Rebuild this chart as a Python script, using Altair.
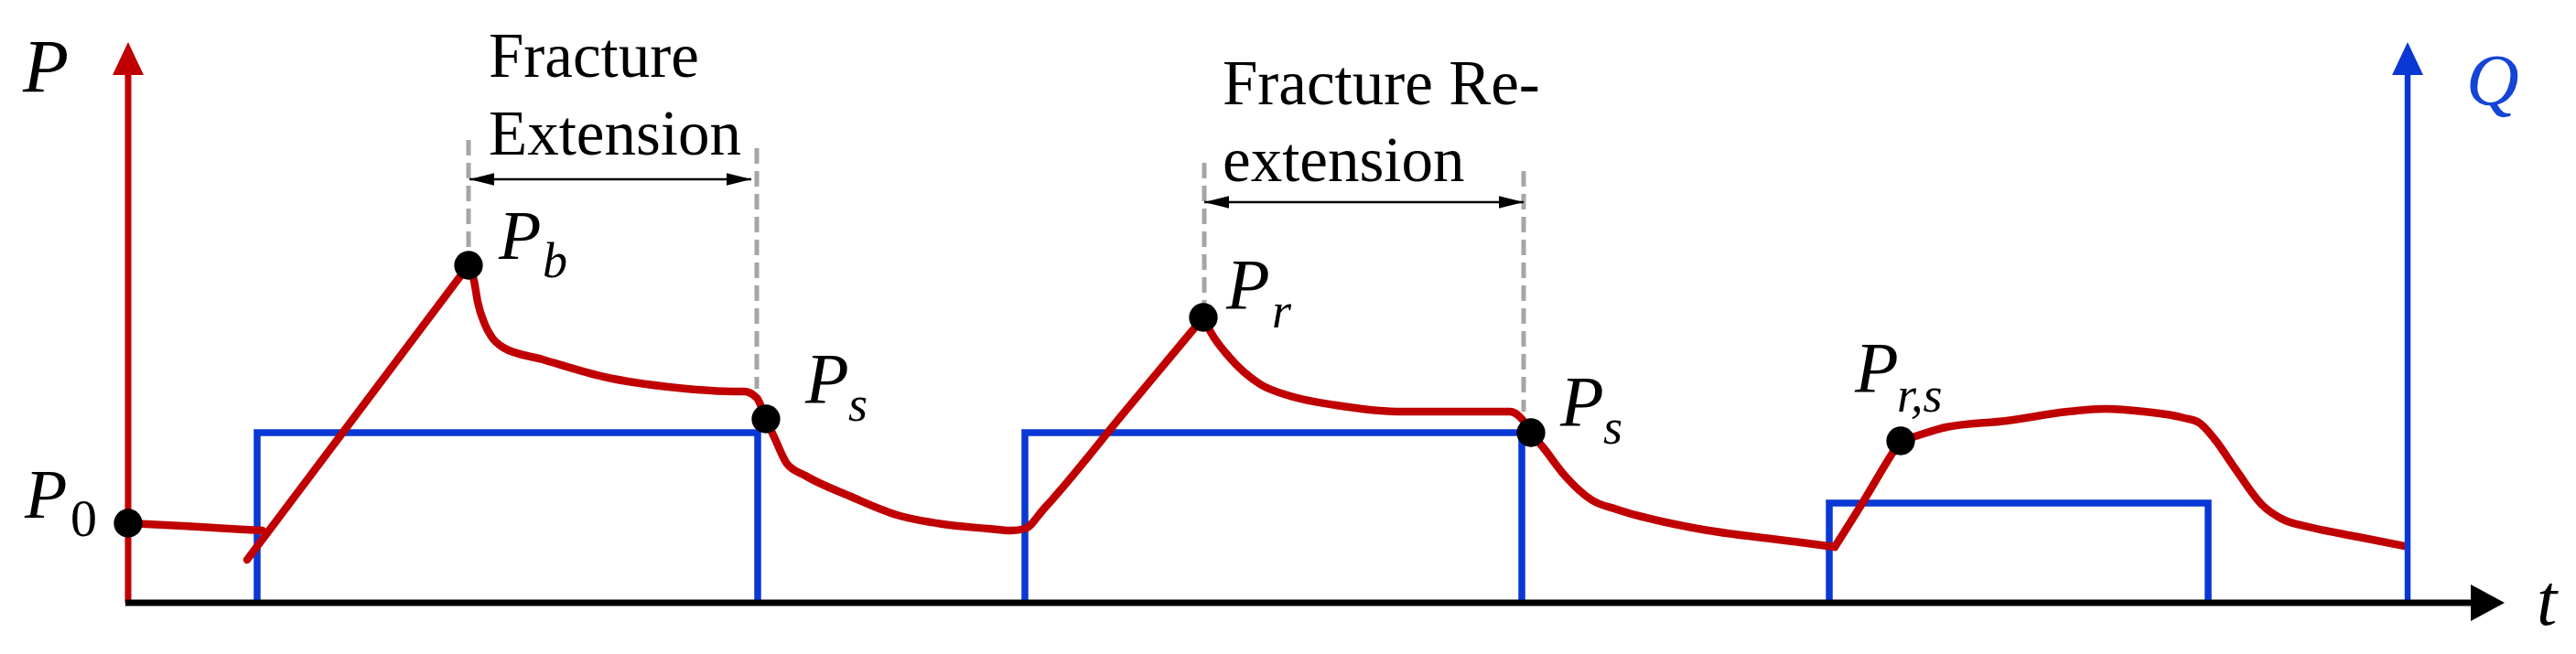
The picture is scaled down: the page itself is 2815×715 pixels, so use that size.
import altair as alt
import pandas as pd

# ---------------- data (t in schematic time units, P in schematic pressure units) ----------------
# red pressure curve, split into segments at the sharp corners
seg0_t = [0, 6, 11, 14.7]
seg0_p = [8.7, 8.4, 8.1, 7.9]
seg1_t = [13.0, 37.2]
seg1_p = [4.7, 36.9]
seg2_t = [37.2, 37.8, 38.2, 39.0, 39.7, 41.0, 45.3, 52.0, 60.0, 66.0, 67.3, 68.7, 69.7, 70.7,
          72.0, 74.0, 79.0, 84.0, 89.0, 94.0, 96.5, 98.0, 100.1, 109.0, 117.5]
seg2_p = [36.9, 35.2, 32.9, 30.4, 29.1, 27.9, 26.6, 24.7, 23.5, 23.1, 23.1, 22.4, 20.1, 17.9,
          15.2, 13.9, 11.6, 9.6, 8.6, 8.1, 7.9, 8.1, 10.3, 21.0, 31.2]
seg3_t = [117.5, 118.3, 120.3, 123.7, 127.0, 132.0, 139.1, 146.0, 151.0, 152.3, 153.3, 154.7,
          157.0, 160.0, 162.7, 171.0, 182.0, 186.5]
seg3_p = [31.2, 29.6, 26.9, 23.9, 22.6, 21.6, 20.9, 20.9, 20.9, 20.1, 18.6, 16.9,
          13.9, 11.2, 10.2, 8.2, 6.7, 6.1]
seg4_t = [186.5, 189.7, 192.7, 193.7, 195.3, 198.7, 205.3, 212.0, 216.0, 220.3, 224.7, 226.3,
          228.0, 230.3, 233.3, 235.3, 238.7, 243.7, 248.8]
seg4_p = [6.1, 11.2, 16.2, 17.7, 18.2, 19.2, 19.9, 20.9, 21.2, 20.9, 20.2, 19.7,
          17.9, 14.6, 10.6, 9.2, 8.2, 7.2, 6.2]

# blue injection-rate steps Q(t): start, end, level
q_start = [14.1, 98.0, 185.9]
q_end = [68.8, 152.3, 227.3]
q_level = [18.6, 18.6, 10.9]

# marked points
pt_name = ["P0", "Pb", "Ps", "Pr", "Ps2", "Prs"]
pt_t = [0.0, 37.2, 69.7, 117.5, 153.3, 193.7]
pt_p = [8.7, 36.9, 20.1, 31.2, 18.6, 17.7]

# dashed guide lines (t, top, bottom)
dash_t = [37.2, 68.7, 117.6, 152.5]
dash_top = [50.6, 49.7, 48.1, 47.2]
dash_bot = [36.9, 23.4, 31.2, 20.9]

# double arrows (from, to, level)
arr_from = [37.3, 117.6]
arr_to = [68.1, 152.5]
arr_lvl = [46.3, 43.8]

# axes extents
p_axis_top = 57.9
p_axis_tip = 61.3
q_axis_t = 249.1
t_axis_end = 256.5
t_axis_tip = 259.7

# labels
it_text = ["P", "Q", "t", "P", "P", "b", "P", "s", "P", "r", "P", "s", "P", "r,s"]
it_t = [-11.5, 255.5, 263.2, -11.3, 40.5, 45.3, 74.0, 78.7, 120.0, 125.0, 156.5, 161.2, 188.7, 193.3]
it_p = [55.9, 54.4, -2.4, 9.3, 37.6, 35.6, 21.9, 19.9, 32.2, 30.1, 19.4, 17.4, 23.1, 20.9]
it_size = [82, 80, 80, 76, 76, 54, 78, 54, 78, 54, 78, 54, 78, 54]
it_col = ["black", "#1444D8"] + ["black"] * 12

up_text = ["0", "Fracture", "Extension", "Fracture Re-", "extension"]
up_t = [-6.3, 39.4, 39.4, 119.6, 119.6]
up_p = [7.3, 57.5, 49.0, 54.5, 46.1]
up_size = [58, 69, 69, 69, 69]

RED = "#C00000"
BLUE = "#0A38D4"
FONT = "Liberation Serif"

# ---------------- build tables ----------------
rows = []
for k, (ts, ps) in enumerate([(seg0_t, seg0_p), (seg1_t, seg1_p), (seg2_t, seg2_p),
                               (seg3_t, seg3_p), (seg4_t, seg4_p)]):
    for i, (a, b) in enumerate(zip(ts, ps)):
        rows.append({"seg": k, "i": i, "t": a, "P": b})
red_df = pd.DataFrame(rows)

qrows = []
for k, (a, b, lv) in enumerate(zip(q_start, q_end, q_level)):
    for i, (tt, pp) in enumerate([(a, 0), (a, lv), (b, lv), (b, 0)]):
        qrows.append({"seg": k, "i": i, "t": tt, "P": pp})
blue_df = pd.DataFrame(qrows)

xs = alt.Scale(domain=[-13.2, 266.7], nice=False, zero=False)
ys = alt.Scale(domain=[-4.8, 65.1], nice=False, zero=False)
X = lambda f="t": alt.X(f"{f}:Q", scale=xs, axis=None)
Y = lambda f="P": alt.Y(f"{f}:Q", scale=ys, axis=None)

blue = alt.Chart(blue_df).mark_line(color=BLUE, strokeWidth=7.5, strokeJoin="miter",
                                    interpolate="linear").encode(
    x=X(), y=Y(), detail="seg:N", order="i:Q")

red = alt.Chart(red_df).mark_line(color=RED, strokeWidth=8.5, strokeCap="round",
                                  strokeJoin="round", interpolate="monotone").encode(
    x=X(), y=Y(), detail="seg:N", order="i:Q")

dash_df = pd.DataFrame({"t": dash_t, "P": dash_top, "P2": dash_bot})
dashes = alt.Chart(dash_df).mark_rule(color="#A6A6A6", strokeWidth=5,
                                      strokeDash=[17, 8]).encode(
    x=X(), y=Y(), y2="P2:Q")

dots_df = pd.DataFrame({"name": pt_name, "t": pt_t, "P": pt_p})
dots = alt.Chart(dots_df).mark_point(shape="circle", filled=True, color="black",
                                     opacity=1, size=980).encode(x=X(), y=Y())

# axes
paxis = alt.Chart(pd.DataFrame({"t": [0.0], "P": [0.0], "P2": [p_axis_top]})).mark_rule(
    color=RED, strokeWidth=7).encode(x=X(), y=Y(), y2="P2:Q")
qaxis = alt.Chart(pd.DataFrame({"t": [q_axis_t], "P": [0.0], "P2": [p_axis_top]})).mark_rule(
    color=BLUE, strokeWidth=6.5).encode(x=X(), y=Y(), y2="P2:Q")
taxis = alt.Chart(pd.DataFrame({"t": [-0.3], "t2": [t_axis_end], "P": [0.0]})).mark_rule(
    color="black", strokeWidth=7).encode(x=X(), x2="t2:Q", y=Y())

up_head = "M0,0L-0.944,2L0.944,2Z"
right_head_big = "M0,0L-2,-1.08L-2,1.08Z"
ptip = alt.Chart(pd.DataFrame({"t": [0.0], "P": [p_axis_tip]})).mark_point(
    shape=up_head, filled=True, color=RED, opacity=1, size=1296).encode(x=X(), y=Y())
qtip = alt.Chart(pd.DataFrame({"t": [q_axis_t], "P": [p_axis_tip]})).mark_point(
    shape=up_head, filled=True, color=BLUE, opacity=1, size=1296).encode(x=X(), y=Y())
ttip = alt.Chart(pd.DataFrame({"t": [t_axis_tip], "P": [0.0]})).mark_point(
    shape=right_head_big, filled=True, color="black", opacity=1, size=1369).encode(x=X(), y=Y())

# double arrows
arr_df = pd.DataFrame({"t": arr_from, "t2": arr_to, "P": arr_lvl})
arr_line = alt.Chart(arr_df).mark_rule(color="black", strokeWidth=2.5).encode(
    x=X(), x2="t2:Q", y=Y())
lh = alt.Chart(pd.DataFrame({"t": arr_from, "P": arr_lvl})).mark_point(
    shape="M0,0L2,-0.5L2,0.5Z", filled=True, color="black", opacity=1, size=729).encode(
    x=X(), y=Y())
rh = alt.Chart(pd.DataFrame({"t": arr_to, "P": arr_lvl})).mark_point(
    shape="M0,0L-2,-0.5L-2,0.5Z", filled=True, color="black", opacity=1, size=729).encode(
    x=X(), y=Y())

it_df = pd.DataFrame({"txt": it_text, "t": it_t, "P": it_p, "fs": it_size, "col": it_col})
it_layer = alt.Chart(it_df).mark_text(font=FONT, fontStyle="italic", align="left",
                                      baseline="alphabetic").encode(
    x=X(), y=Y(), text="txt:N", size=alt.Size("fs:Q", scale=None),
    color=alt.Color("col:N", scale=None))

up_df = pd.DataFrame({"txt": up_text, "t": up_t, "P": up_p, "fs": up_size})
up_layer = alt.Chart(up_df).mark_text(font=FONT, align="left", baseline="alphabetic",
                                      color="black").encode(
    x=X(), y=Y(), text="txt:N", size=alt.Size("fs:Q", scale=None))

chart = alt.layer(
    blue, red, dashes, paxis, qaxis, taxis, ptip, qtip, ttip, dots,
    arr_line, lh, rh, it_layer, up_layer
).properties(
    width=2799, height=699, padding=0,
    autosize=alt.AutoSizeParams(type="none"),
    background="white",
).configure_view(stroke=None)

chart.save("out.html", embed_options={"renderer": "svg", "actions": False})
